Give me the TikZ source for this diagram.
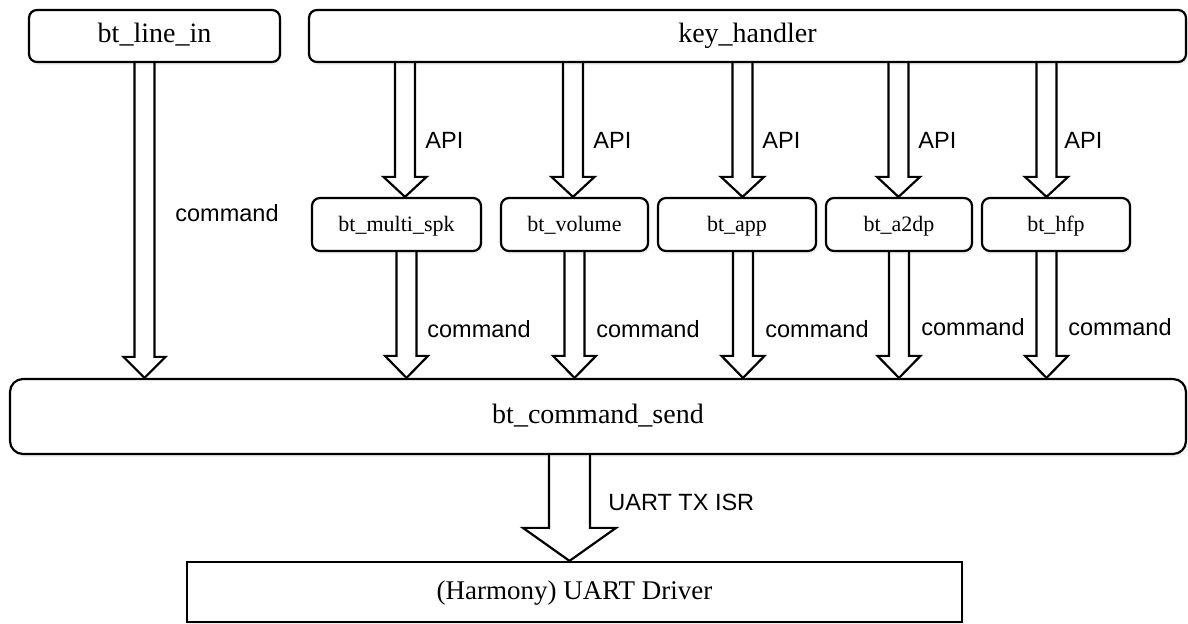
\documentclass[tikz,border=0pt]{standalone}
\usepackage{fontspec}
\setmainfont{Liberation Serif}
\newfontfamily\labfont{Liberation Sans}
\usetikzlibrary{calc,shadows}
\tikzset{
  shad/.style={drop shadow={opacity=0.10, shadow xshift=0.8pt, shadow yshift=-1.6pt}},
  boxbase/.style={draw, line width=1.1pt, fill=white, inner sep=0pt, text height=0.7em, text depth=0pt, shad},
  topbox/.style={boxbase, rounded corners=4pt, minimum height=26pt, font=\fontsize{14}{16}\selectfont},
  subbox/.style={boxbase, rounded corners=4pt, minimum height=26.5pt, font=\fontsize{11}{13}\selectfont},
  sendbox/.style={boxbase, rounded corners=6.5pt, minimum height=37.5pt, font=\fontsize{14}{16}\selectfont},
  drvbox/.style={boxbase, minimum height=30pt, font=\fontsize{13.5}{15}\selectfont},
  lab/.style={anchor=west, inner sep=0pt, font=\labfont\fontsize{11.75}{13}\selectfont},
  blockarrow/.style={draw, line width=1.1pt, line join=miter},
}
\newcommand\mkblockarrow[6]{%
  \draw[blockarrow] let \p1=(#1.south -| #3), \p2=(#2.north -| #3) in
    (\x1-#4,\y1) -- (\x1-#4,\y2+#6) -- (\x1-#5,\y2+#6) -- (\x1,\y2)
    -- (\x1+#5,\y2+#6) -- (\x1+#4,\y2+#6) -- (\x1+#4,\y1);}
\begin{document}
\begin{tikzpicture}[x=0.5pt,y=-0.5pt]
\useasboundingbox (0,0) rectangle (1188,624);

% boxes
\node[topbox, minimum width=125.5pt] (lin) at (154.5,36) {bt\_line\_in};
\node[topbox, minimum width=438.5pt] (kh) at (747.5,36) {key\_handler};

\node[subbox, minimum width=84.5pt] (ms) at (396.5,224.5) {bt\_multi\_spk};
\node[subbox, minimum width=73.5pt] (vol) at (574.5,224.5) {bt\_volume};
\node[subbox, minimum width=79pt] (app) at (737,224.5) {bt\_app};
\node[subbox, minimum width=73pt] (a2dp) at (899,224.5) {bt\_a2dp};
\node[subbox, minimum width=74pt] (hfp) at (1056,224.5) {bt\_hfp};

\node[sendbox, minimum width=588pt] (cs) at (598,416.5) {bt\_command\_send};
\node[drvbox, minimum width=387.5pt] (drv) at (574.5,592) {(Harmony) UART Driver};

% arrow x positions
\coordinate (xl) at (144.5,0);
\coordinate (xa1) at (405,0);
\coordinate (xa2) at (573,0);
\coordinate (xa3) at (742.5,0);
\coordinate (xa4) at (898.5,0);
\coordinate (xa5) at (1046.5,0);
\coordinate (xc1) at (406.5,0);
\coordinate (xc2) at (574.5,0);
\coordinate (xc3) at (743,0);
\coordinate (xc4) at (899,0);
\coordinate (xc5) at (1046.5,0);
\coordinate (xu) at (569.5,0);

% arrows
\mkblockarrow{lin}{cs}{xl}{5pt}{10.5pt}{10.5pt}
\mkblockarrow{kh}{ms}{xa1}{5pt}{10.75pt}{10pt}
\mkblockarrow{kh}{vol}{xa2}{5pt}{10.75pt}{10pt}
\mkblockarrow{kh}{app}{xa3}{5pt}{10.75pt}{10pt}
\mkblockarrow{kh}{a2dp}{xa4}{5pt}{10.75pt}{10pt}
\mkblockarrow{kh}{hfp}{xa5}{5pt}{10.75pt}{10pt}
\mkblockarrow{ms}{cs}{xc1}{5pt}{10.75pt}{11pt}
\mkblockarrow{vol}{cs}{xc2}{5pt}{10.75pt}{11pt}
\mkblockarrow{app}{cs}{xc3}{5pt}{10.75pt}{11pt}
\mkblockarrow{a2dp}{cs}{xc4}{5pt}{10.75pt}{11pt}
\mkblockarrow{hfp}{cs}{xc5}{5pt}{10.75pt}{11pt}
\mkblockarrow{cs}{drv}{xu}{10.25pt}{23.25pt}{16.5pt}

% labels
\node[lab] (lcmd) at (175,213) {command};
\node[lab] (api1) at (425,140) {API};
\node[lab] (api2) at (593,140) {API};
\node[lab] (api3) at (762,140) {API};
\node[lab] (api4) at (918,140) {API};
\node[lab] (api5) at (1064,140) {API};
\node[lab] (cmd1) at (427,329) {command};
\node[lab] (cmd2) at (596,329) {command};
\node[lab] (cmd3) at (765,329) {command};
\node[lab] (cmd4) at (921,327) {command};
\node[lab] (cmd5) at (1068,327) {command};
\node[lab] (uart) at (608,502) {UART TX ISR};
\end{tikzpicture}
\end{document}
